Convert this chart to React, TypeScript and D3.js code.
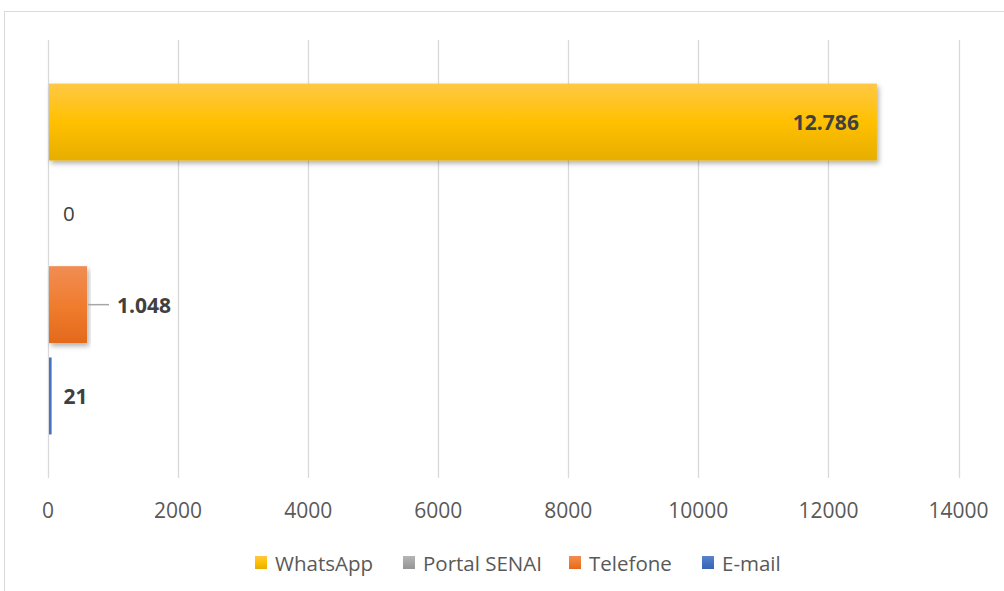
import React from "react";
import * as d3 from "d3";

const series = ["WhatsApp", "Portal SENAI", "Telefone", "E-mail"];
const values = [12730, 0, 585, 40];
const labels = ["12.786", "0", "1.048", "21"];
const labelBold = [true, false, true, true];
const ticks = [0, 2000, 4000, 6000, 8000, 10000, 12000, 14000];

const W = 1004;
const H = 591;
const FONT = "'Open Sans', 'DejaVu Sans', sans-serif";

export default function App() {
  const x = d3.scaleLinear().domain([0, 14000]).range([48, 958.5]);
  const y = d3
    .scaleBand<string>()
    .domain(series)
    .range([40, 478])
    .paddingInner(0.157)
    .paddingOuter(0.477);

  const legendX = [255, 403, 569, 702];

  return (
    <svg
      width={W}
      height={H}
      style={{ position: "absolute", left: 0, top: 0, background: "#fff" }}
      fontFamily={FONT}
    >
      <defs>
        <linearGradient id="g0" x1="0" y1="0" x2="0" y2="1">
          <stop offset="0" stopColor="#ffc845" />
          <stop offset="0.5" stopColor="#ffc000" />
          <stop offset="1" stopColor="#e6ae00" />
        </linearGradient>
        <linearGradient id="g1" x1="0" y1="0" x2="0" y2="1">
          <stop offset="0" stopColor="#b5b5b5" />
          <stop offset="0.5" stopColor="#a5a5a5" />
          <stop offset="1" stopColor="#949494" />
        </linearGradient>
        <linearGradient id="g2" x1="0" y1="0" x2="0" y2="1">
          <stop offset="0" stopColor="#f08d55" />
          <stop offset="0.5" stopColor="#f07d2e" />
          <stop offset="1" stopColor="#e3691c" />
        </linearGradient>
        <linearGradient id="g3" x1="0" y1="0" x2="0" y2="1">
          <stop offset="0" stopColor="#5b83cc" />
          <stop offset="0.5" stopColor="#4472c4" />
          <stop offset="1" stopColor="#3a64b0" />
        </linearGradient>
        <filter id="sh" x="-5%" y="-20%" width="115%" height="150%">
          <feDropShadow dx="2" dy="3" stdDeviation="2.5" floodColor="#000" floodOpacity="0.3" />
        </filter>
      </defs>

      <rect x={4.5} y={11.5} width={1100} height={700} fill="#fff" stroke="#d9d9d9" strokeWidth={1} />

      {ticks.map((t) => (
        <line
          key={"g" + t}
          x1={Math.round(x(t)) + 0.5}
          x2={Math.round(x(t)) + 0.5}
          y1={40}
          y2={478}
          stroke="#d9d9d9"
          strokeWidth={1.3}
        />
      ))}

      {series.map((s, i) => {
        const y0 = y(s)!;
        const bw = y.bandwidth();
        const x0 = x(0) + 1;
        const w = Math.max(0, x(values[i]) - x(0));
        return w > 0 ? (
          <rect
            key={"b" + s}
            x={x0}
            y={y0}
            width={w}
            height={bw}
            fill={i === 3 ? "#4472c4" : `url(#g${i})`}
            filter={i === 3 ? undefined : "url(#sh)"}
          />
        ) : null;
      })}

      {series.map((s, i) => {
        const cy = y(s)! + y.bandwidth() / 2;
        const end = x(values[i]) + 1;
        const bold = labelBold[i];
        if (i === 0) {
          return (
            <text
              key={"l" + s}
              x={end - 18}
              y={cy}
              textAnchor="end"
              dominantBaseline="central"
              fontSize={21}
              fontWeight="bold"
              fill="#404040"
            >
              {labels[i]}
            </text>
          );
        }
        if (i === 2) {
          return (
            <g key={"l" + s}>
              <line x1={end + 1} x2={end + 22} y1={cy} y2={cy} stroke="#a6a6a6" strokeWidth={1.5} />
              <text
                x={end + 30}
                y={cy}
                dominantBaseline="central"
                fontSize={21}
                fontWeight="bold"
                fill="#404040"
              >
                {labels[i]}
              </text>
            </g>
          );
        }
        return (
          <text
            key={"l" + s}
            x={bold ? end + 12 : end + 14}
            y={cy}
            dominantBaseline="central"
            fontSize={bold ? 21 : 20.5}
            fontWeight={bold ? "bold" : "normal"}
            fill="#404040"
          >
            {labels[i]}
          </text>
        );
      })}

      {ticks.map((t) => (
        <text
          key={"t" + t}
          x={x(t)}
          y={510}
          textAnchor="middle"
          dominantBaseline="central"
          fontSize={21}
          fill="#595959"
        >
          {t}
        </text>
      ))}

      {series.map((s, i) => (
        <g key={"lg" + s}>
          <rect x={legendX[i]} y={556} width={12} height={13} fill={`url(#g${i})`} />
          <text
            x={legendX[i] + 20}
            y={563}
            dominantBaseline="central"
            fontSize={20.5}
            fill="#595959"
          >
            {s}
          </text>
        </g>
      ))}
    </svg>
  );
}
